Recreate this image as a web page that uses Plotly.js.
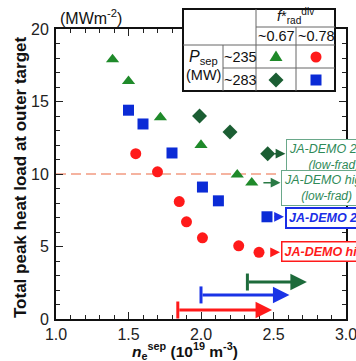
<!DOCTYPE html>
<html><head><meta charset="utf-8">
<script src="https://cdn.plot.ly/plotly-3.0.1.min.js"></script>
<style>html,body{margin:0;padding:0;background:#fff}</style>
</head><body>
<div id="plot" style="width:356px;height:361px"></div>
<script>
// ---- data ----
const triX = [1.39, 1.50, 1.72, 2.00, 2.25, 2.35];   // Psep~235, f~0.67
const triY = [17.9, 16.4, 13.9, 12.0, 9.95, 9.4];
const cirX = [1.55, 1.70, 1.85, 1.90, 2.01, 2.26, 2.40]; // Psep~235, f~0.78
const cirY = [11.4, 10.15, 8.1, 6.7, 5.6, 5.05, 4.6];
const diaX = [1.99, 2.20, 2.46];                        // Psep~283, f~0.67
const diaY = [14.0, 12.9, 11.4];
const sqX = [1.50, 1.60, 1.80, 2.01, 2.12, 2.455];      // Psep~283, f~0.78
const sqY = [14.4, 13.45, 11.45, 9.1, 8.15, 7.05];
const limitY = 10;
const arrowStart = [1.84, 2.00, 2.32];
const arrowEnd = [2.49, 2.61, 2.73];
const arrowY = [0.62, 1.66, 2.55];
const xTickVals = [1.0, 1.5, 2.0, 2.5, 3.0];
const xTickText = ['1.0', '1.5', '2.0', '2.5', '3.0'];
const yTickVals = [0, 5, 10, 15, 20];
const colTitles = ['~0.67', '~0.78'];
const rowTitles = ['~235', '~283'];
const boxTexts = ['JA-DEMO 2014', 'JA-DEMO high', 'JA-DEMO 2014', 'JA-DEMO high'];

// ---- style ----
const FONT = 'Liberation Sans, Arial, sans-serif';
const cGreen = '#1f8a2a', cDark = '#1b5e33', cRed = '#ff1a1a', cBlue = '#0b2bd6';
const arrowCols = [cRed, '#1a33e6', '#1d6b3b'];

const traces = [
  {x: [1.0, 3.0], y: [limitY, limitY], mode: 'lines', line: {color: '#f5b3a0', width: 2, dash: '10px,5px'}, hoverinfo: 'skip'},
  {x: triX, y: triY, mode: 'markers', marker: {symbol: 'triangle-up', size: 11.5, color: cGreen}},
  {x: cirX, y: cirY, mode: 'markers', marker: {symbol: 'circle', size: 11, color: cRed}},
  {x: diaX, y: diaY, mode: 'markers', marker: {symbol: 'diamond', size: 11.5, color: cDark}},
  {x: sqX, y: sqY, mode: 'markers', marker: {symbol: 'square', size: 11, color: cBlue}}
];

const P = 290; // plot size px
const shapes = [];
const ann = [];

// arrows with start bars
for (let i = 0; i < arrowStart.length; i++) {
  ann.push({x: arrowEnd[i], y: arrowY[i], ax: arrowStart[i], ay: arrowY[i], xref: 'x', yref: 'y', axref: 'x', ayref: 'y',
    text: '', showarrow: true, arrowhead: 2, arrowwidth: 3, arrowsize: 1.1, arrowcolor: arrowCols[i], standoff: 0});
  shapes.push({type: 'line', xref: 'x', yref: 'y', x0: arrowStart[i], x1: arrowStart[i], ysizemode: 'pixel', yanchor: arrowY[i],
    y0: -8.5, y1: 8.5, line: {color: arrowCols[i], width: 3}});
}

// label boxes with small arrows
const lab = [
  {t: boxTexts[0], sub: '(low-frad)', x: 2.586, y: 11.2, col: '#2f8a58', bc: '#6aa88a', bw: 1, b: false, ax: 2.497, axe: 2.582, ay: diaY[2], ac: cDark},
  {t: boxTexts[1], sub: '(low-frad)', x: 2.552, y: 9.05, col: '#2f8a58', bc: '#6aa88a', bw: 1, b: false, ax: 2.42, axe: 2.548, ay: triY[5], ac: '#2a7a45'},
  {t: boxTexts[2], sub: null, x: 2.579, y: 6.97, col: '#1a2ee6', bc: '#1a2ee6', bw: 2, b: true, ax: 2.497, axe: 2.572, ay: sqY[5], ac: '#1a2ee6'},
  {t: boxTexts[3], sub: null, x: 2.552, y: 4.66, col: cRed, bc: cRed, bw: 1.5, b: true, ax: 2.483, axe: 2.545, ay: cirY[6], ac: cRed}
];
lab.forEach(l => {
  let txt = '<i>' + (l.b ? '<b>' + l.t + '</b>' : l.t) + '</i>';
  if (l.sub) txt += '<br><span style="font-size:12px"><i>' + l.sub + '</i></span>';
  ann.push({x: l.x, y: l.y, xref: 'x', yref: 'y', xanchor: 'left', yanchor: 'middle', text: txt, showarrow: false,
    font: {family: FONT, size: 12.5, color: l.col}, bgcolor: '#fff', bordercolor: l.bc, borderwidth: l.bw, borderpad: 2, align: 'center'});
  ann.push({x: l.axe, y: l.ay, ax: l.ax, ay: l.ay, xref: 'x', yref: 'y', axref: 'x', ayref: 'y', text: '', showarrow: true,
    arrowhead: 2, arrowwidth: 1.5, arrowsize: 1.3, arrowcolor: l.ac, standoff: 0});
});

// legend table (paper coords)
const px = v => (v - 56) / P, py = v => (319 - v) / P;
const tL = px(183), tR = px(335), tT = py(9), tB = py(91);
const c1 = px(223), c2 = px(256), c3 = px(296);
const r1 = py(27), r2 = py(45), r3 = py(68);
shapes.push({type: 'rect', xref: 'paper', yref: 'paper', x0: tL, x1: tR, y0: tB, y1: tT, fillcolor: '#fff', line: {color: '#111', width: 2}, layer: 'above'});
const inner = {color: '#666', width: 1};
[[c2, tT, c2, tB], [c2, r1, tR, r1], [c3, r1, c3, tB], [tL, r2, tR, r2], [c1, r2, c1, tB], [c1, r3, tR, r3]].forEach(s =>
  shapes.push({type: 'line', xref: 'paper', yref: 'paper', x0: s[0], y0: s[1], x1: s[2], y1: s[3], line: inner, layer: 'above'}));
// legend marker shapes
function mk(cx, cy, kind, col) {
  const X = px(cx), Y = py(cy);
  const w = d => d / P;
  let path;
  if (kind === 'tri') path = `M${X - w(6.5)},${Y - w(4)} L${X + w(6.5)},${Y - w(4)} L${X},${Y + w(6.5)} Z`;
  else if (kind === 'dia') path = `M${X},${Y + w(7.5)} L${X + w(7.5)},${Y} L${X},${Y - w(7.5)} L${X - w(7.5)},${Y} Z`;
  else if (kind === 'sq') path = `M${X - w(5.5)},${Y - w(5.5)} L${X + w(5.5)},${Y - w(5.5)} L${X + w(5.5)},${Y + w(5.5)} L${X - w(5.5)},${Y + w(5.5)} Z`;
  if (kind === 'cir') shapes.push({type: 'circle', xref: 'paper', yref: 'paper', x0: X - w(5.5), x1: X + w(5.5), y0: Y - w(5.5), y1: Y + w(5.5), fillcolor: col, line: {width: 0}, layer: 'above'});
  else shapes.push({type: 'path', xref: 'paper', yref: 'paper', path: path, fillcolor: col, line: {width: 0}, layer: 'above'});
}
mk(276, 57, 'tri', cGreen); mk(316, 57, 'cir', cRed); mk(276, 80, 'dia', cDark); mk(316, 80, 'sq', cBlue);

const tf = {family: FONT, size: 14.5, color: '#111'};
const pa = (x, y, t, f, xa) => ann.push({x: x, y: y, xref: 'paper', yref: 'paper', text: t, showarrow: false, font: f || tf, xanchor: xa || 'center', yanchor: 'middle'});
pa(px(296), py(16), '<i>f</i>*<sub>rad</sub><sup>div</sup>');
pa(px(276), py(36), colTitles[0]); pa(px(316), py(36), colTitles[1]);
pa(px(240), py(57), rowTitles[0]); pa(px(240), py(80), rowTitles[1]);
pa(px(203), py(58), '<i>P</i><sub>sep</sub>', {family: FONT, size: 16, color: '#111'});
pa(px(203), py(75), '(MW)');
// titles
pa(px(58), py(17), '(MWm<sup>-2</sup>)', {family: FONT, size: 16, color: '#111'}, 'left');
ann.push({x: px(20), y: py(177), xref: 'paper', yref: 'paper', text: '<b>Total peak heat load at outer target</b>', textangle: -90,
  showarrow: false, font: {family: FONT, size: 17, color: '#111'}, xanchor: 'center', yanchor: 'middle'});
pa(px(185), py(351), '<b><i>n</i><sub>e</sub><sup>sep</sup> (10<sup>19</sup> m<sup>-3</sup>)</b>', {family: FONT, size: 15.5, color: '#111'});

const axBase = {showgrid: false, zeroline: false, showline: true, linecolor: '#111', linewidth: 2, mirror: 'allticks',
  ticks: 'inside', ticklen: 7, tickwidth: 1, tickcolor: '#222', tickfont: {family: FONT, size: 16, color: '#222'},
  ticklabeloverflow: 'allow'};
const layout = {
  width: 356, height: 361, margin: {l: 56, r: 10, t: 29, b: 42}, showlegend: false,
  paper_bgcolor: '#fff', plot_bgcolor: '#fff',
  xaxis: Object.assign({}, axBase, {range: [1.0, 3.0], tickvals: xTickVals, ticktext: xTickText, ticklabelstandoff: 0,
    minor: {dtick: 0.1, tick0: 1.0, ticks: 'inside', ticklen: 4, tickwidth: 1, tickcolor: '#222'}}),
  yaxis: Object.assign({}, axBase, {range: [0, 20], tickvals: yTickVals, ticklabelstandoff: 2,
    minor: {dtick: 1, tick0: 0, ticks: 'inside', ticklen: 4, tickwidth: 1, tickcolor: '#222'}}),
  shapes: shapes, annotations: ann
};
Plotly.newPlot('plot', traces, layout, {staticPlot: true, displayModeBar: false});
</script>
</body></html>
